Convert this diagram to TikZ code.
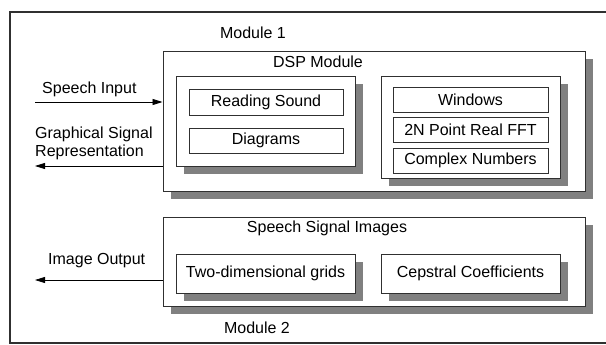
\documentclass[tikz,border=0pt]{standalone}
\usepackage{fontspec}
\setmainfont{Liberation Sans}
\usetikzlibrary{arrows.meta}
\usetikzlibrary{shadows}

\definecolor{boxline}{HTML}{303030}
\definecolor{shade}{HTML}{808080}

\tikzset{
    box/.style={draw=boxline, fill=white, line width=0.9pt, inner sep=0pt},
    shadowed/.style={box, drop shadow={shadow xshift=8pt, shadow yshift=-8pt, fill=shade, opacity=1}},
    lbl/.style={inner sep=0pt},
    sig/.style={draw=black, line width=0.8pt, -{Triangle[length=10pt,width=6pt]}}
}

\begin{document}
\begin{tikzpicture}[x=1pt, y=-1pt, font=\fontsize{16}{18}\selectfont]
        \useasboundingbox (0,0) rectangle (606,345);
        \clip (0,0) rectangle (606,345);
        % outer frame, open on the right
        \draw[draw=boxline, line width=1.3pt] (620,12) -- (10,12) -- (10,343) -- (620,343);

        % Module 1
        \node[lbl] (modone) at (253,33) {Module 1};
        \node[shadowed, minimum width=422pt, minimum height=140pt] (dsp) at (374,121) {};
        \node[lbl] (dspname) at (318,62) {DSP Module};
        \node[shadowed, minimum width=179pt, minimum height=90pt] (sound) at (265.5,121) {};
        \node[box, minimum width=154pt, minimum height=26pt] (reading) at (266,102) {Reading Sound};
        \node[box, minimum width=154pt, minimum height=25pt] (diagrams) at (266,140.5) {Diagrams};
        \node[shadowed, minimum width=179pt, minimum height=102pt] (fft) at (470.5,127) {};
        \foreach \y/\n/\t in {99.5/win/Windows, 130/real/2N Point Real FFT, 160.5/cplx/Complex Numbers} {
            \node[box, minimum width=155pt, minimum height=25pt] (\n) at (470.5,\y) {\t};
        }

        % Module 2
        \node[shadowed, minimum width=422pt, minimum height=89pt] (images) at (374,261.5) {};
        \node[lbl] (imgname) at (327,228) {Speech Signal Images};
        \node[shadowed, minimum width=179pt, minimum height=39pt] (grids) at (265.5,273.5) {Two-dimensional grids};
        \node[shadowed, minimum width=179pt, minimum height=39pt] (cepstral) at (470.5,273.5) {Cepstral Coefficients};
        \node[lbl] (modtwo) at (257,328) {Module 2};

        % inputs and outputs
        \coordinate (speechin) at (35,102);
        \draw[sig] (speechin) -- (speechin -| dsp.west);
        \node[lbl, anchor=west] (inlabel) at (42,89) {Speech Input};

        \coordinate (graphout) at (35,166);
        \draw[sig] (graphout -| dsp.west) -- (graphout);
        \node[lbl, anchor=west, align=left] (graphlabel) at (35,143) {Graphical Signal\\Representation};

        \coordinate (imgout) at (35,280);
        \draw[sig] (imgout -| images.west) -- (imgout);
        \node[lbl, anchor=west] (outlabel) at (48,261) {Image Output};
\end{tikzpicture}
\end{document}
